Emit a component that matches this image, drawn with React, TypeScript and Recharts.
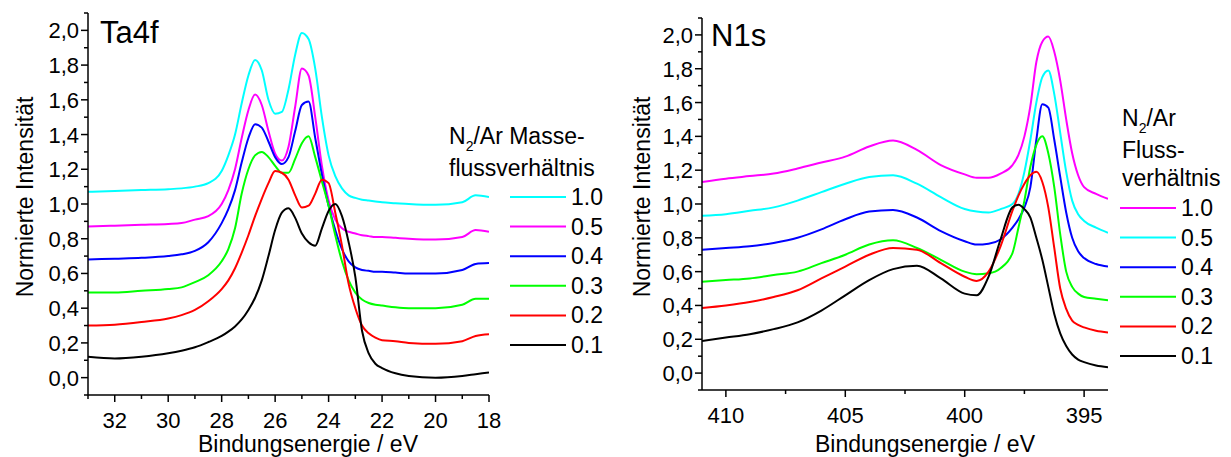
import React from 'react';
import { LineChart, Line, XAxis, YAxis } from 'recharts';

// Ta4f region, binding energy in eV
const taEnergy = [33, 32, 31, 30, 29.5, 29, 28.5, 28, 27.75, 27.5, 27.25, 27, 26.75, 26.5, 26.25, 26, 25.75, 25.5, 25.25, 25, 24.75, 24.5, 24.25, 24, 23.75, 23.5, 23.25, 23, 22.75, 22.5, 22.25, 22, 21.5, 21, 20, 19, 18.5, 18];
const ta10 = [1.07, 1.075, 1.08, 1.085, 1.09, 1.1, 1.12, 1.19, 1.28, 1.4, 1.58, 1.74, 1.83, 1.77, 1.6, 1.52, 1.53, 1.66, 1.86, 1.985, 1.95, 1.78, 1.5, 1.28, 1.16, 1.09, 1.05, 1.035, 1.025, 1.02, 1.015, 1.01, 1.005, 1.0, 0.995, 1.01, 1.05, 1.04];
const ta05 = [0.87, 0.875, 0.88, 0.885, 0.89, 0.91, 0.93, 1.0, 1.08, 1.2, 1.38, 1.54, 1.63, 1.57, 1.42, 1.29, 1.25, 1.33, 1.56, 1.78, 1.74, 1.5, 1.22, 1.02, 0.91, 0.86, 0.84, 0.83, 0.82, 0.815, 0.81, 0.81, 0.805, 0.8, 0.795, 0.81, 0.85, 0.84];
const ta04 = [0.68, 0.685, 0.69, 0.7, 0.71, 0.73, 0.78, 0.89, 0.97, 1.08, 1.24, 1.38, 1.46, 1.44, 1.36, 1.27, 1.23, 1.27, 1.42, 1.57, 1.59, 1.38, 1.17, 0.99, 0.85, 0.74, 0.67, 0.635, 0.62, 0.615, 0.61, 0.61, 0.605, 0.6, 0.6, 0.62, 0.655, 0.66];
const ta03 = [0.49, 0.49, 0.5, 0.51, 0.52, 0.55, 0.59, 0.67, 0.74, 0.86, 1.06, 1.2, 1.28, 1.3, 1.27, 1.22, 1.18, 1.18, 1.26, 1.35, 1.39, 1.27, 1.13, 0.99, 0.82, 0.67, 0.56, 0.49, 0.45, 0.43, 0.42, 0.415, 0.405, 0.4, 0.4, 0.42, 0.455, 0.455];
const ta02 = [0.3, 0.305, 0.32, 0.34, 0.36, 0.39, 0.44, 0.51, 0.56, 0.63, 0.72, 0.82, 0.93, 1.03, 1.12, 1.19, 1.18, 1.14, 1.05, 0.98, 0.99, 1.06, 1.14, 1.12, 0.95, 0.76, 0.54, 0.4, 0.3, 0.255, 0.23, 0.215, 0.21, 0.2, 0.195, 0.21, 0.24, 0.25];
const ta01 = [0.12, 0.11, 0.12, 0.14, 0.155, 0.175, 0.205, 0.24, 0.265, 0.295, 0.335, 0.39, 0.46, 0.56, 0.7, 0.85, 0.95, 0.975, 0.92, 0.83, 0.78, 0.76, 0.86, 0.96, 1.0, 0.93, 0.78, 0.58, 0.27, 0.14, 0.08, 0.055, 0.025, 0.01, 0.0, 0.01, 0.02, 0.03];

// N1s region
const nEnergy = [411, 410, 409, 408, 407, 406, 405, 404, 403, 402, 401, 400, 399.5, 399, 398.5, 398, 397.75, 397.5, 397.25, 397, 396.75, 396.5, 396.25, 396, 395.75, 395.5, 395.25, 395, 394.5, 394];
const n10 = [1.13, 1.15, 1.165, 1.18, 1.21, 1.245, 1.28, 1.34, 1.375, 1.32, 1.23, 1.175, 1.155, 1.155, 1.18, 1.23, 1.29, 1.4, 1.58, 1.84, 1.96, 1.99, 1.9, 1.73, 1.5, 1.3, 1.17, 1.1, 1.06, 1.03];
const n05 = [0.93, 0.94, 0.96, 0.98, 1.02, 1.07, 1.12, 1.16, 1.17, 1.12, 1.04, 0.97, 0.955, 0.95, 0.97, 1.0, 1.06, 1.19, 1.38, 1.6, 1.75, 1.79, 1.65, 1.42, 1.19, 1.02, 0.94, 0.9, 0.86, 0.83];
const n04 = [0.73, 0.74, 0.75, 0.77, 0.8, 0.85, 0.91, 0.955, 0.965, 0.92, 0.84, 0.78, 0.76, 0.765, 0.79, 0.86, 0.91, 0.98, 1.1, 1.38, 1.59, 1.57, 1.38, 1.16, 0.95, 0.8, 0.72, 0.68, 0.645, 0.63];
const n03 = [0.54, 0.55, 0.56, 0.58, 0.6, 0.65, 0.7, 0.76, 0.785, 0.74, 0.67, 0.6, 0.585, 0.59, 0.62, 0.71, 0.86, 1.02, 1.22, 1.35, 1.4, 1.3, 1.1, 0.82, 0.6, 0.51, 0.47, 0.45, 0.44, 0.43];
const n02 = [0.385, 0.4, 0.42, 0.45, 0.49, 0.56, 0.63, 0.7, 0.74, 0.73, 0.65, 0.57, 0.545, 0.6, 0.75, 0.96, 1.05, 1.12, 1.17, 1.19, 1.13, 0.98, 0.74, 0.5, 0.38, 0.31, 0.285, 0.27, 0.25, 0.24];
const n01 = [0.19, 0.21, 0.23, 0.26, 0.3, 0.37, 0.46, 0.55, 0.615, 0.635, 0.56, 0.47, 0.46, 0.57, 0.79, 0.98, 0.995, 0.97, 0.92, 0.8, 0.67, 0.51, 0.35, 0.235, 0.16, 0.11, 0.08, 0.065, 0.045, 0.035];

const ratioLabels = ['1.0', '0.5', '0.4', '0.3', '0.2', '0.1'];
const seriesKeys = ['s10', 's05', 's04', 's03', 's02', 's01'];
const taColors = ['#00FFFF', '#FF00FF', '#0000FF', '#00FF00', '#FF0000', '#000000'];
const nColors = ['#FF00FF', '#00FFFF', '#0000FF', '#00FF00', '#FF0000', '#000000'];

const yMajor = [0, 0.2, 0.4, 0.6, 0.8, 1.0, 1.2, 1.4, 1.6, 1.8, 2.0];
const yMinor = [-0.1, 0.1, 0.3, 0.5, 0.7, 0.9, 1.1, 1.3, 1.5, 1.7, 1.9, 2.1];
const taMajor = [32, 30, 28, 26, 24, 22, 20, 18];
const taMinor = [33, 31, 29, 27, 25, 23, 21, 19];
const nMajor = [410, 405, 400, 395];
const nMinor = [407.5, 402.5, 397.5];

const FONT = '"Liberation Sans", Arial, sans-serif';

const taData = taEnergy.map((e, i) => ({
  e, s10: ta10[i], s05: ta05[i], s04: ta04[i], s03: ta03[i], s02: ta02[i], s01: ta01[i],
}));
const nData = nEnergy.map((e, i) => ({
  e, s10: n10[i], s05: n05[i], s04: n04[i], s03: n03[i], s02: n02[i], s01: n01[i],
}));

const YTick = (props: any) => {
  const { x, y, payload } = props;
  const major = yMajor.includes(payload.value);
  return (
    <g>
      <line x1={x - (major ? 7 : 4)} x2={x} y1={y} y2={y} stroke="#000" strokeWidth={1.5} />
      {major && (
        <text x={x - 9} y={y} dy={8} textAnchor="end" fontSize={22} fontFamily={FONT} fill="#000">
          {payload.value.toFixed(1).replace('.', ',')}
        </text>
      )}
    </g>
  );
};

const XTick = (props: any) => {
  const { x, y, payload, majors } = props;
  const major = majors.includes(payload.value);
  return (
    <g>
      <line x1={x} x2={x} y1={y} y2={y + (major ? 7 : 4)} stroke="#000" strokeWidth={1.5} />
      {major && (
        <text x={x} y={y + 33} textAnchor="middle" fontSize={22} fontFamily={FONT} fill="#000">
          {payload.value}
        </text>
      )}
    </g>
  );
};

const axisLine = { stroke: '#000', strokeWidth: 1.5 };

interface PanelProps {
  data: any[];
  domain: [number, number];
  majors: number[];
  minors: number[];
  colors: string[];
  margin: { top: number; right: number; left: number; bottom: number };
}

const Panel = (p: PanelProps) => (
  <LineChart width={600} height={457} data={p.data} margin={p.margin}>
    <XAxis
      dataKey="e"
      type="number"
      domain={p.domain}
      reversed
      allowDataOverflow
      ticks={[...p.majors, ...p.minors]}
      interval={0}
      tickSize={0}
      tickMargin={0}
      tickLine={false}
      axisLine={axisLine}
      height={40}
      tick={(t: any) => <XTick {...t} majors={p.majors} />}
    />
    <YAxis
      type="number"
      domain={[-0.1, 2.1]}
      allowDataOverflow
      ticks={[...yMajor, ...yMinor]}
      interval={0}
      tickSize={0}
      tickMargin={0}
      tickLine={false}
      axisLine={axisLine}
      width={60}
      tick={(t: any) => <YTick {...t} />}
    />
    {seriesKeys.map((k, i) => (
      <Line
        key={k}
        dataKey={k}
        type="monotone"
        stroke={p.colors[i]}
        strokeWidth={2}
        dot={false}
        isAnimationActive={false}
      />
    ))}
  </LineChart>
);

const LegendBlock = ({ x, y0, colors }: { x: number; y0: number; colors: string[] }) => (
  <g>
    {ratioLabels.map((lab, i) => (
      <g key={lab}>
        <line x1={x} x2={x + 56} y1={y0 + i * 29.6} y2={y0 + i * 29.6} stroke={colors[i]} strokeWidth={2} />
        <text x={x + 61} y={y0 + i * 29.6} dy={8} fontSize={23}>{lab}</text>
      </g>
    ))}
  </g>
);

const App = () => (
  <div style={{ position: 'absolute', left: 0, top: 0, width: 1231, height: 457, background: '#fff', fontFamily: FONT }}>
    <div style={{ position: 'absolute', left: 0, top: 0 }}>
      <Panel data={taData} domain={[18, 33]} majors={taMajor} minors={taMinor} colors={taColors}
        margin={{ top: 13, right: 111, left: 28, bottom: 22 }} />
    </div>
    <div style={{ position: 'absolute', left: 610, top: 0 }}>
      <Panel data={nData} domain={[394, 411]} majors={nMajor} minors={nMinor} colors={nColors}
        margin={{ top: 18, right: 102, left: 32, bottom: 27 }} />
    </div>
    <svg width={1231} height={457} style={{ position: 'absolute', left: 0, top: 0, pointerEvents: 'none' }}
      fontFamily={FONT} fill="#000">
      <text x={100} y={43} fontSize={31}>Ta4f</text>
      <text x={711} y={46} fontSize={31}>N1s</text>

      <text transform="translate(33,197) rotate(-90)" textAnchor="middle" fontSize={23}>Normierte Intensität</text>
      <text transform="translate(650,197) rotate(-90)" textAnchor="middle" fontSize={23}>Normierte Intensität</text>
      <text x={308} y={452} textAnchor="middle" fontSize={23}>Bindungsenergie / eV</text>
      <text x={925} y={452} textAnchor="middle" fontSize={23}>Bindungsenergie / eV</text>

      <text x={449} y={144} fontSize={23}>
        N<tspan dy={7} fontSize={14}>2</tspan><tspan dy={-7}>/Ar Masse-</tspan>
      </text>
      <text x={449} y={176} fontSize={23}>flussverhältnis</text>
      <LegendBlock x={510} y0={197} colors={taColors} />

      <text x={1122} y={126} fontSize={23}>
        N<tspan dy={7} fontSize={14}>2</tspan><tspan dy={-7}>/Ar</tspan>
      </text>
      <text x={1122} y={158} fontSize={23}>Fluss-</text>
      <text x={1122} y={186} fontSize={23}>verhältnis</text>
      <LegendBlock x={1120} y0={208} colors={nColors} />
    </svg>
  </div>
);

export default App;
